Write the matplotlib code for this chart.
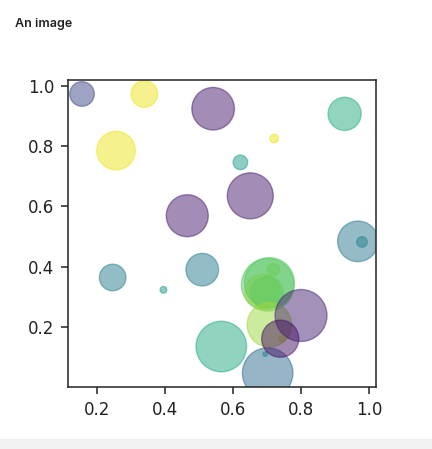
import matplotlib
matplotlib.use("Agg")
import matplotlib.pyplot as plt
from matplotlib.patches import Rectangle

# bubble data (x, y, colour value, marker area in pt^2)
x = [0.157, 0.340, 0.257, 0.542, 0.466, 0.928, 0.721, 0.622, 0.651, 0.967,
     0.979, 0.247, 0.396, 0.510, 0.566, 0.702, 0.695, 0.686, 0.702, 0.707,
     0.700, 0.719, 0.707, 0.800, 0.744, 0.739]
y = [0.973, 0.973, 0.785, 0.924, 0.569, 0.907, 0.825, 0.746, 0.635, 0.484,
     0.482, 0.364, 0.323, 0.390, 0.135, 0.047, 0.110, 0.317, 0.340, 0.347,
     0.313, 0.390, 0.207, 0.238, 0.161, 0.161]
colors = [0.22, 0.97, 0.97, 0.08, 0.08, 0.62, 0.97, 0.55, 0.08, 0.40,
          0.45, 0.42, 0.55, 0.42, 0.60, 0.35, 0.45, 0.95, 0.75, 0.74,
          0.76, 0.78, 0.85, 0.10, 0.90, 0.04]
area = [313, 366, 771, 939, 913, 570, 38, 110, 1095, 853,
        58, 366, 23, 550, 1325, 1325, 11, 620, 1432, 1300,
        550, 82, 1029, 1400, 23, 716]

fig = plt.figure(figsize=(4.32, 4.49), dpi=100)

# page heading and grey footer strip
fig.text(15 / 432, 1 - 27 / 449, "An image", fontsize=9, fontweight="semibold",
         family=["Inter", "DejaVu Sans"], color="#222222")
fig.patches.append(Rectangle((0, 0), 1, 10 / 449, transform=fig.transFigure,
                             facecolor="#f2f2f2", edgecolor="none"))

ax = fig.add_axes([68 / 432, 62 / 449, 308 / 432, 307 / 449])
ax.scatter(x, y, s=area, c=colors, cmap="viridis", vmin=0, vmax=1, alpha=0.5)

ax.set_xticks([0.2, 0.4, 0.6, 0.8, 1.0])
ax.set_yticks([0.2, 0.4, 0.6, 0.8, 1.0])
ax.tick_params(labelsize=12, length=5, width=1.1, pad=5, colors="#222222")
for sp in ax.spines.values():
    sp.set_linewidth(1.1)
    sp.set_color("#222222")

fig.savefig("out.png", dpi=100)
